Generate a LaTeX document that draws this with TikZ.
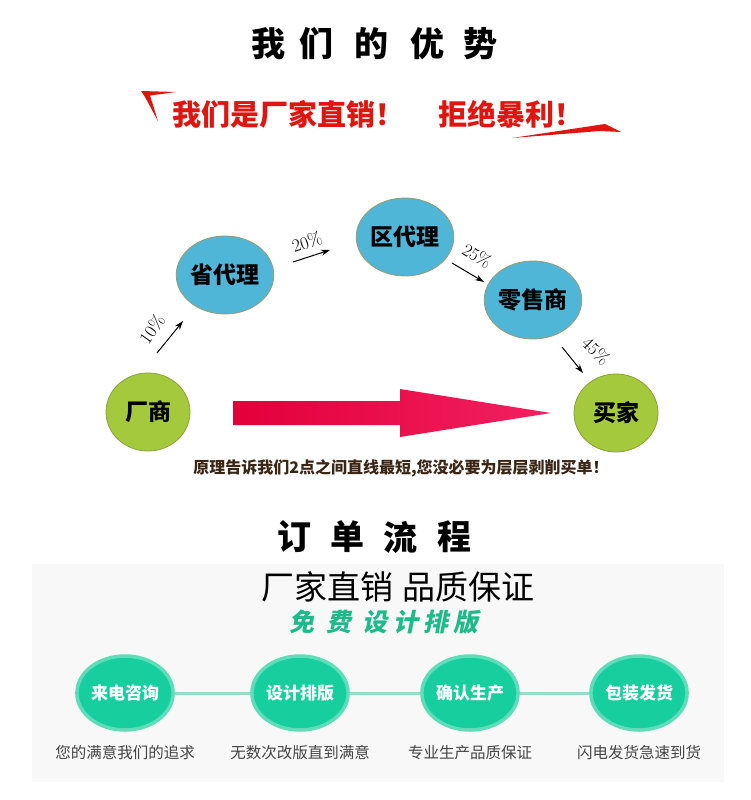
\documentclass[tikz,border=0pt]{standalone}
\usepackage{fontspec}
\newfontfamily\cjk{Noto Sans CJK SC}
\newfontfamily\cjkslant[FakeSlant=0.2]{Noto Sans CJK SC}
\usetikzlibrary{shapes.geometric,arrows.meta}

\definecolor{sloganred}{HTML}{E0150F}
\definecolor{agentblue}{HTML}{4FB6D7}
\definecolor{agentblueedge}{HTML}{9A9A6A}
\definecolor{agentgreen}{HTML}{A4C93C}
\definecolor{agentgreenedge}{HTML}{8AA23A}
\definecolor{arrowred}{HTML}{E2003A}
\definecolor{arrowpink}{HTML}{F22060}
\definecolor{captionbrown}{HTML}{3B2616}
\definecolor{panelgrey}{HTML}{F8F8F8}
\definecolor{flowteal}{HTML}{17CE9E}
\definecolor{flowring}{HTML}{5FDDB9}
\definecolor{flowline}{HTML}{92DCC8}
\definecolor{freegreen}{HTML}{1EBB8A}
\definecolor{notegrey}{HTML}{444444}

\tikzstyle{headline}=[font=\cjk\bfseries\fontsize{34}{34}\selectfont, inner sep=0pt]
\tikzstyle{slogan}=[font=\cjk\bfseries\fontsize{29}{29}\selectfont, text=sloganred, inner sep=0pt, anchor=west]
\tikzstyle{agent}=[ellipse, line width=0.8pt, minimum width=84pt, minimum height=78pt, inner sep=0pt, font=\cjk\bfseries\fontsize{23}{23}\selectfont]
\tikzstyle{blue agent}=[agent, fill=agentblue, draw=agentblueedge]
\tikzstyle{green agent}=[agent, fill=agentgreen, draw=agentgreenedge]
\tikzstyle{share}=[draw, line width=1pt, -{Stealth[length=9pt,width=6pt]}]
\tikzstyle{share label}=[font=\fontsize{18}{18}\selectfont, inner sep=0pt]
\tikzstyle{flow circle}=[ellipse, fill=flowteal, draw=flowring, line width=3.5pt, minimum width=82pt, minimum height=74pt, inner sep=0pt, text=white, font=\cjk\bfseries\fontsize{17}{17}\selectfont]
\tikzstyle{flow edge}=[draw=flowline, line width=3pt, -]
\tikzstyle{flow note}=[font=\cjk\fontsize{15.5}{15.5}\selectfont, text=notegrey, inner sep=0pt]

\begin{document}
\begin{tikzpicture}[x=1pt, y=-1pt]
       \useasboundingbox[fill=white] (0,0) rectangle (750,800);
       % upper part
       \foreach \ch/\xx [count=\i] in {我/268, 们/316, 的/371, 优/427, 势/480} {
           \node[headline] (adv\i) at (\xx,44) {\ch};
       }
       \fill[sloganred] (141,91) -- (176,92) -- (150,95.5) -- (158,121) -- (145,97) -- cycle;
       \fill[sloganred] (512,138) -- (605,124) -- (621,132) -- (600,131) -- cycle;
       \node[slogan] (slogan-a) at (172,114) {我们是厂家直销！};
       \node[slogan] (slogan-b) at (438,114) {拒绝暴利！};

       \foreach \pos/\name/\kind/\txt in {{(148,412)/maker/green/厂商}, {(225,275)/province/blue/省代理}, {(405,237)/district/blue/区代理}, {(533,300)/retail/blue/零售商}, {(616,413)/buyer/green/买家}} {
           \node[\kind\space agent] (\name) at \pos {\txt};
       }
       \foreach \name/\ax/\ay/\bx/\by in {p10/157/353/183/321, p20/293/262/330/250, p25/452/263/484/282, p45/562/347/583/373} {
           \coordinate (\name-from) at (\ax,\ay);
           \coordinate (\name-to) at (\bx,\by);
           \path[share] (\name-from) -- (\name-to);
       }
       \node[share label, rotate=55] (l10) at (152,329) {10\%};
       \node[share label, rotate=18] (l20) at (307,242) {20\%};
       \node[share label, rotate=-32] (l25) at (477,256) {25\%};
       \node[share label, rotate=-45] (l45) at (596,351) {45\%};

       \shade[left color=arrowred, right color=arrowpink] (233,401) -- (400,401) -- (400,389) -- (551,413) -- (400,437) -- (400,425) -- (233,425) -- cycle;
       \node[font=\cjk\bfseries\fontsize{16}{16}\selectfont, text=captionbrown] (rule) at (401,468) {原理告诉我们2点之间直线最短,您没必要为层层剥削买单！};

       % order process
       \foreach \ch/\xx [count=\i] in {订/294, 单/347, 流/400, 程/454} {
           \node[headline] (ord\i) at (\xx,537) {\ch};
       }
       \fill[panelgrey] (32,564) rectangle (724,782);
       \node[font=\cjk\fontsize{33}{33}\selectfont] (promise) at (398,587) {厂家直销\hspace{0.3em}品质保证};
       \foreach \ch/\xx [count=\i] in {免/302, 费/339, 设/375, 计/406, 排/436, 版/466} {
           \node[font=\cjkslant\bfseries\fontsize{25}{25}\selectfont, text=freegreen, inner sep=0pt] (free\i) at (\xx,622) {\ch};
       }
       \foreach \xx/\name/\txt/\note in {125/call/来电咨询/您的满意我们的追求, 300/design/设计排版/无数次改版直到满意, 470/confirm/确认生产/专业生产品质保证, 639/ship/包装发货/闪电发货急速到货} {
           \node[flow circle] (\name) at (\xx,693) {\txt};
           \node[flow note] (\name-note) at (\xx,753) {\note};
       }
       \foreach \source/\sink in {call/design, design/confirm, confirm/ship} {
           \path[flow edge] (\source) -- (\sink);
       }
\end{tikzpicture}
\end{document}
